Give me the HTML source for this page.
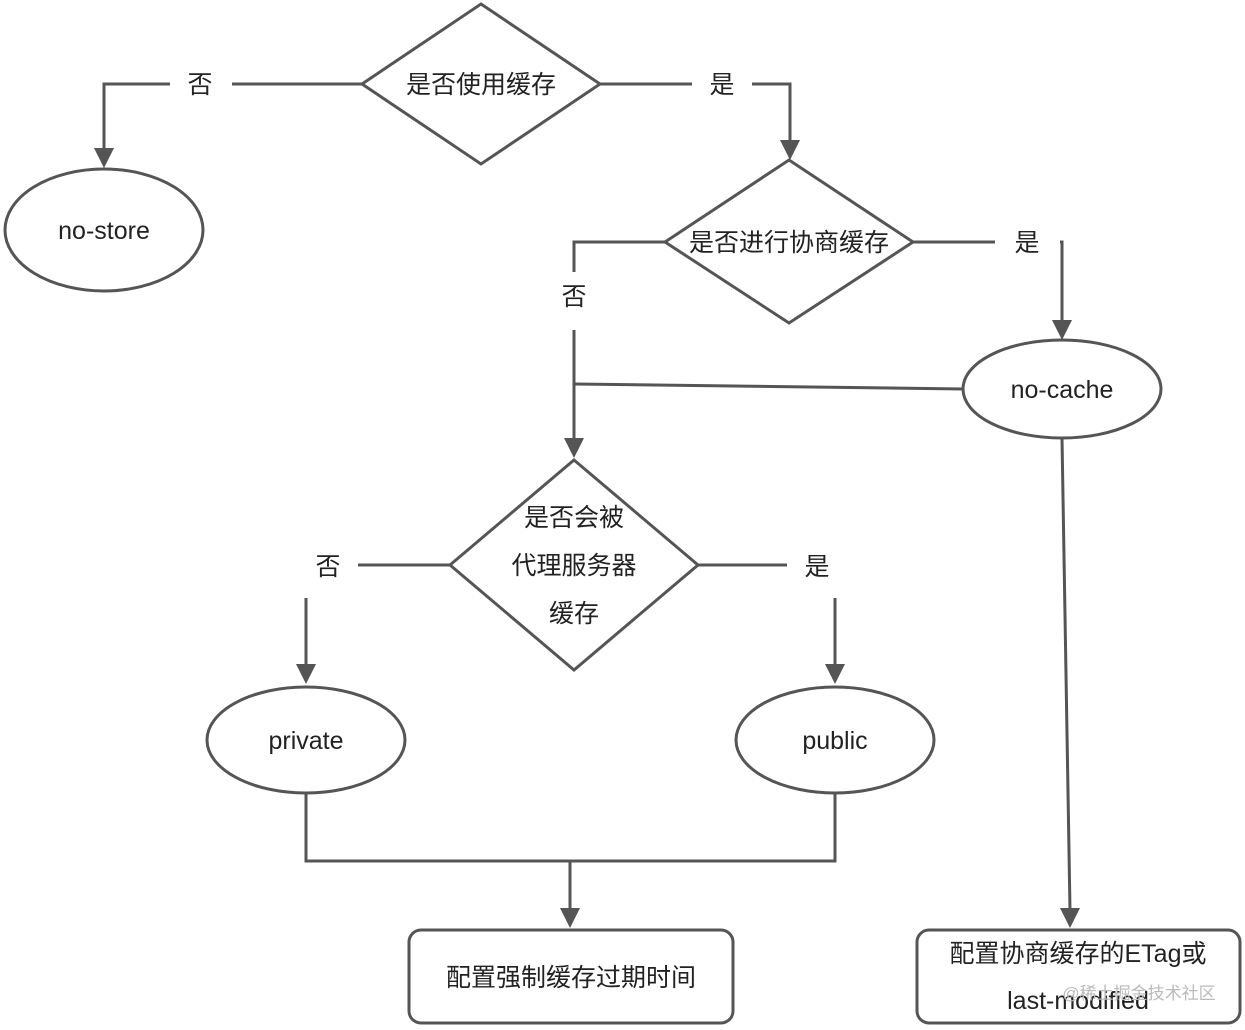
<!DOCTYPE html>
<html><head><meta charset="utf-8"><style>
html,body{margin:0;padding:0;background:#fff;}
svg{display:block;}
text{font-family:"Liberation Sans","Noto Sans CJK SC",sans-serif;fill:#222;}
</style></head><body>
<svg width="1245" height="1030" viewBox="0 0 1245 1030" xmlns="http://www.w3.org/2000/svg">
<defs>
<marker id="a" markerWidth="8" markerHeight="8" refX="4" refY="7" orient="auto" markerUnits="userSpaceOnUse" viewBox="0 0 8 8"></marker>
</defs>
<g fill="none" stroke="#555" stroke-width="3">
<!-- diamond 1 -->
<polygon points="481,4 600,84 481,164 362,84" fill="#fff"/>
<polyline points="362,84 232,84"/>
<polyline points="170,84 104,84 104,150"/>
<polyline points="600,84 692,84"/>
<polyline points="752,84 790,84 790,142"/>
<ellipse cx="104" cy="230" rx="99" ry="61"/>
<!-- diamond 2 -->
<polygon points="789,160 913,242 789,323 665,242" fill="#fff"/>
<polyline points="665,242 574,242 574,272"/>
<polyline points="574,330 574,440"/>
<polyline points="913,242 995,242"/>
<polyline points="1060,242 1062,242 1062,322"/>
<ellipse cx="1062" cy="389" rx="99" ry="49"/>
<line x1="963" y1="389" x2="574" y2="384"/>
<line x1="1062" y1="438" x2="1070" y2="910"/>
<!-- diamond 3 -->
<polygon points="574,460 698,565 574,670 450,565" fill="#fff"/>
<polyline points="450,565 358,565"/>
<polyline points="306,598 306,666"/>
<polyline points="698,565 787,565"/>
<polyline points="835,598 835,666"/>
<ellipse cx="306" cy="740" rx="99" ry="53"/>
<ellipse cx="835" cy="740" rx="99" ry="53"/>
<polyline points="306,793 306,861 835,861 835,793"/>
<line x1="570" y1="861" x2="570" y2="910"/>
<rect x="409" y="930" width="324" height="93" rx="12"/>
<rect x="917" y="930" width="323" height="93" rx="12"/>
</g>
<g fill="#555">
<polygon points="94,148 114,148 104,168"/>
<polygon points="780,140 800,140 790,160"/>
<polygon points="564,438 584,438 574,458"/>
<polygon points="1052,320 1072,320 1062,340"/>
<polygon points="1060,908 1080,908 1070,928"/>
<polygon points="296,664 316,664 306,684"/>
<polygon points="825,664 845,664 835,684"/>
<polygon points="560,908 580,908 570,928"/>
</g>
<g font-size="25" text-anchor="middle">
<text x="481" y="93">是否使用缓存</text>
<text x="200" y="93">否</text>
<text x="722" y="93">是</text>
<text x="104" y="239">no-store</text>
<text x="789" y="251">是否进行协商缓存</text>
<text x="574" y="305">否</text>
<text x="1027" y="251">是</text>
<text x="1062" y="398">no-cache</text>
<text x="574" y="526">是否会被</text>
<text x="574" y="574">代理服务器</text>
<text x="574" y="622">缓存</text>
<text x="328" y="575">否</text>
<text x="817" y="575">是</text>
<text x="306" y="749">private</text>
<text x="835" y="749">public</text>
<text x="571" y="986">配置强制缓存过期时间</text>
<text x="1078" y="962">配置协商缓存的ETag或</text>
<text x="1078" y="1009">last-modified</text>
</g>
<text x="1139" y="999" font-size="17" text-anchor="middle" style="fill:#bbb">@稀土掘金技术社区</text>
</svg>
</body></html>
